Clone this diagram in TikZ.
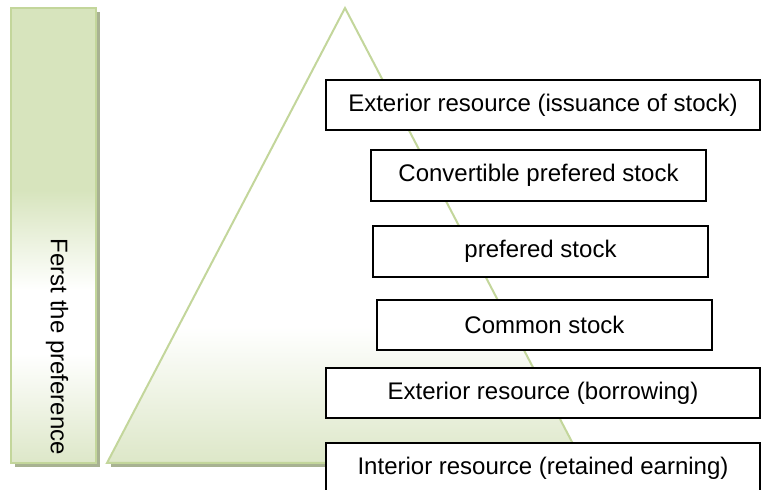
\documentclass[tikz,border=0pt]{standalone}
\usepackage{fontspec}
\setmainfont{Liberation Sans}
\usetikzlibrary{positioning}
\definecolor{olivelite}{RGB}{215,228,189}
\definecolor{olivefoot}{RGB}{221,231,200}
\definecolor{oliveline}{RGB}{195,214,155}
\definecolor{oliveshadow}{RGB}{168,178,146}
\pgfdeclareverticalshading{barshade}{100bp}{color(0bp)=(olivefoot); color(25bp)=(olivefoot); color(37bp)=(white); color(44bp)=(white); color(55bp)=(olivelite); color(100bp)=(olivelite)}
\pgfdeclareverticalshading{pyrshade}{100bp}{color(0bp)=(olivefoot); color(25bp)=(olivefoot); color(40bp)=(white); color(100bp)=(white)}
\tikzset{stage/.style={draw=black,line width=0.75pt,fill=white,inner sep=0pt,font=\fontsize{12}{14}\selectfont},
         wide/.style={stage,minimum width=217pt,minimum height=25pt},
         narrow/.style={stage,minimum width=167.5pt,minimum height=25.5pt},
         olive/.style={draw=oliveline,line width=1pt},
         drop/.style={fill=oliveshadow}}

\begin{document}
\begin{tikzpicture}[x=0.5pt,y=-0.5pt]
            \useasboundingbox (0,0) rectangle (761,490);
            % left column
            \fill[drop] (15,12) rectangle (100,467);
            \draw[olive,shading=barshade] (11,8) rectangle (96,463);
            \node[rotate=-90,font=\fontsize{12}{14}\selectfont] (rank) at (57,347) {Ferst the preference};
            % pyramid
            \fill[drop] (111,463) rectangle (585,467);
            \draw[olive,shading=pyrshade] (345,8) -- (583,463) -- (107,463) -- cycle;
            % steps
            \node[wide] (issue) at (543,105) {Exterior resource (issuance of stock)};
            \node[narrow] (convert) at (538.5,175.5) {Convertible prefered stock};
            \node[narrow] (prefer) at (540.5,251.5) {prefered stock};
            \node[narrow,minimum height=25pt] (common) at (544.5,325) {Common stock};
            \node[wide] (borrow) at (543,393) {Exterior resource (borrowing)};
            \node[wide] (retain) at (543,468) {Interior resource (retained earning)};
        \end{tikzpicture}
\end{document}
